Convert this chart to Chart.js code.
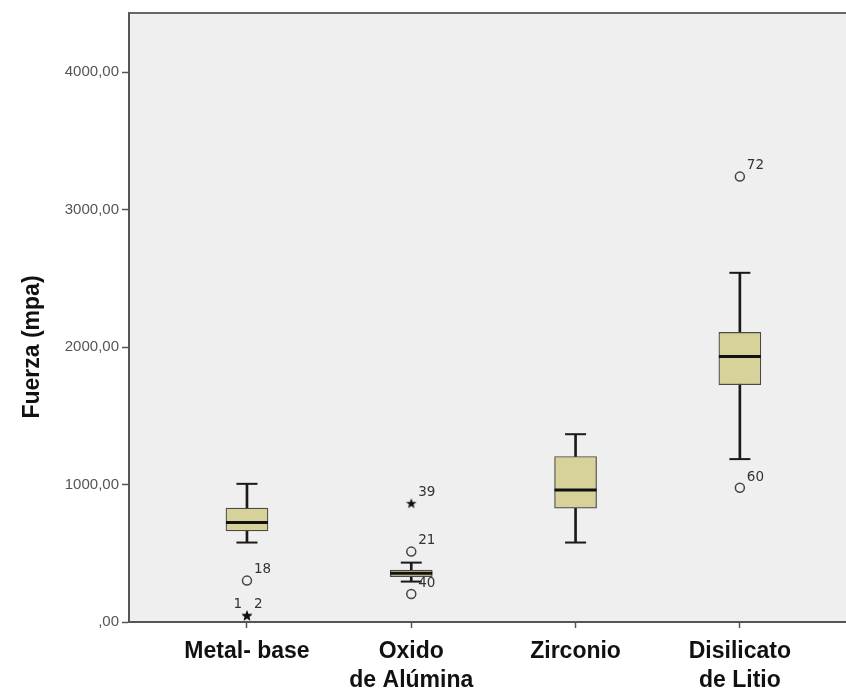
<!DOCTYPE html>
<html lang="es">
<head>
  <meta charset="UTF-8" /><meta name="viewport" content="width=device-width,initial-scale=1" />
  <title>Fuerza por material</title>
  <script src="https://cdn.jsdelivr.net/npm/chart.js"></script>
  <style>html,body{margin:0;background:#fff;}#wrap{width:846px;height:688px;position:relative;}</style>
</head>
<body>
  <div id="wrap"><canvas id="chart"></canvas></div>
  <script>
    // categories (x = 1..4)
    const categories = [['Metal- base'], ['Oxido', 'de Alúmina'], ['Zirconio'], ['Disilicato', 'de Litio']];
    const catPos = [1, 2, 3, 4];
    // box statistics (mpa)
    const whiskerLow  = [578, 294, 578, 1185];
    const q1          = [663, 330, 828, 1726];
    const median      = [723, 355, 961, 1932];
    const q3          = [828, 378, 1204, 2107];
    const whiskerHigh = [1005, 432, 1366, 2540];
    // outliers (circles) and extremes (stars)
    const outCat   = [1, 2, 2, 4, 4];
    const outVal   = [301, 512, 204, 3240, 976];
    const outLabel = ['18', '21', '40', '72', '60'];
    const starCat   = [1, 1, 2];
    const starVal   = [48, 48, 864];
    const starLabel = ['1', '2', '39'];
    const starSide  = ['left', 'right', 'right'];
    const yTicks = [0, 1000, 2000, 3000, 4000];

    // small filled star marker
    const star = document.createElement('canvas');
    star.width = 12; star.height = 12;
    (function () {
      const c = star.getContext('2d');
      c.fillStyle = '#111';
      c.beginPath();
      for (let i = 0; i < 10; i++) {
        const r = i % 2 ? 2.3 : 5.6;
        const a = -Math.PI / 2 + i * Math.PI / 5;
        c.lineTo(6 + r * Math.cos(a), 6.5 + r * Math.sin(a));
      }
      c.closePath();
      c.fill();
    })();

    const pts = (xs, ys) => xs.map((x, i) => ({ x: x, y: ys[i] }));

    const plotBg = {
      id: 'plotBg',
      beforeDraw(c) {
        const a = c.chartArea, ctx = c.ctx;
        ctx.save();
        ctx.fillStyle = '#efefef';
        ctx.fillRect(a.left, a.top, a.right - a.left, a.bottom - a.top);
        ctx.restore();
      },
      afterDraw(c) {
        const a = c.chartArea, ctx = c.ctx;
        ctx.save();
        ctx.strokeStyle = '#666';
        ctx.lineWidth = 2;
        ctx.beginPath();
        ctx.moveTo(a.left, a.top);
        ctx.lineTo(a.right, a.top);
        ctx.stroke();
        // y title
        ctx.translate(33, 347);
        ctx.rotate(-Math.PI / 2);
        ctx.fillStyle = '#111';
        ctx.font = 'bold 23px "Liberation Sans", Arial, sans-serif';
        ctx.textAlign = 'center';
        ctx.textBaseline = 'middle';
        ctx.fillText('Fuerza (mpa)', 0, 0);
        ctx.restore();
      },
      afterDatasetsDraw(c) {
        const ctx = c.ctx, x = c.scales.x, y = c.scales.y;
        ctx.save();
        ctx.fillStyle = '#333';
        ctx.font = '13.5px "DejaVu Sans", sans-serif';
        ctx.textBaseline = 'bottom';
        outCat.forEach((cat, i) => {
          ctx.textAlign = 'left';
          ctx.fillText(outLabel[i], x.getPixelForValue(cat) + 7, y.getPixelForValue(outVal[i]) - 4);
        });
        starCat.forEach((cat, i) => {
          const px = x.getPixelForValue(cat), py = y.getPixelForValue(starVal[i]);
          if (starSide[i] === 'left') { ctx.textAlign = 'right'; ctx.fillText(starLabel[i], px - 5, py - 4); }
          else { ctx.textAlign = 'left'; ctx.fillText(starLabel[i], px + 7, py - 4); }
        });
        ctx.restore();
      }
    };

    new Chart(document.getElementById('chart'), {
      type: 'bar',
      data: {
        datasets: [
          { label: 'whisker', data: catPos.map((p, i) => ({ x: p, y: [whiskerLow[i], whiskerHigh[i]] })),
            backgroundColor: '#1a1a1a', barThickness: 2, grouped: false, order: 4 },
          { label: 'box', data: catPos.map((p, i) => ({ x: p, y: [q1[i], q3[i]] })),
            backgroundColor: '#d6d29a', borderColor: '#4a4a4a', borderWidth: 1.2, borderSkipped: false,
            barThickness: 42, grouped: false, order: 3 },
          { type: 'scatter', label: 'median', data: pts(catPos, median), pointStyle: 'line',
            pointRadius: 21, borderColor: '#111', borderWidth: 3, order: 2 },
          { type: 'scatter', label: 'caps', data: pts(catPos.concat(catPos), whiskerLow.concat(whiskerHigh)),
            pointStyle: 'line', pointRadius: 10.5, borderColor: '#1a1a1a', borderWidth: 2, order: 2 },
          { type: 'scatter', label: 'outliers', data: pts(outCat, outVal), pointStyle: 'circle',
            pointRadius: 4.5, backgroundColor: 'rgba(0,0,0,0)', borderColor: '#444', borderWidth: 1.5, order: 1 },
          { type: 'scatter', label: 'extremes', data: pts(starCat, starVal), pointStyle: star,
            pointRadius: 6, order: 1 }
        ]
      },
      options: {
        responsive: true,
        maintainAspectRatio: false,
        animation: false,
        layout: { autoPadding: false, padding: { top: 13, left: 0, right: 0, bottom: 0 } },
        plugins: { legend: { display: false }, tooltip: { enabled: false } },
        scales: {
          x: {
            type: 'linear', min: 0.282, max: 4.646, offset: false,
            afterBuildTicks: s => { s.ticks = catPos.map(v => ({ value: v })); },
            afterFit: s => { s.height = 66; s.paddingLeft = 0; s.paddingRight = 0; },
            grid: { offset: false, drawOnChartArea: false, tickLength: 6, tickColor: '#555', tickWidth: 1.5 },
            border: { color: '#555', width: 2 },
            ticks: {
              autoSkip: false, maxRotation: 0, padding: 9, color: '#111',
              font: { family: '"Liberation Sans", Arial, sans-serif', size: 23, weight: 'bold', lineHeight: 1.26 },
              callback: v => categories[v - 1]
            }
          },
          y: {
            min: 0, max: 4430,
            afterBuildTicks: s => { s.ticks = yTicks.map(v => ({ value: v })); },
            afterFit: s => { s.width = 129; s.paddingTop = 0; s.paddingBottom = 0; },
            grid: { drawOnChartArea: false, tickLength: 7, tickColor: '#555', tickWidth: 1.5 },
            border: { color: '#555', width: 2 },
            ticks: {
              padding: 3, color: '#555',
              font: { family: '"Liberation Sans", Arial, sans-serif', size: 15 },
              callback: v => (v === 0 ? ',00' : v + ',00')
            }
          }
        }
      },
      plugins: [plotBg]
    });
  </script>
</body>
</html>
